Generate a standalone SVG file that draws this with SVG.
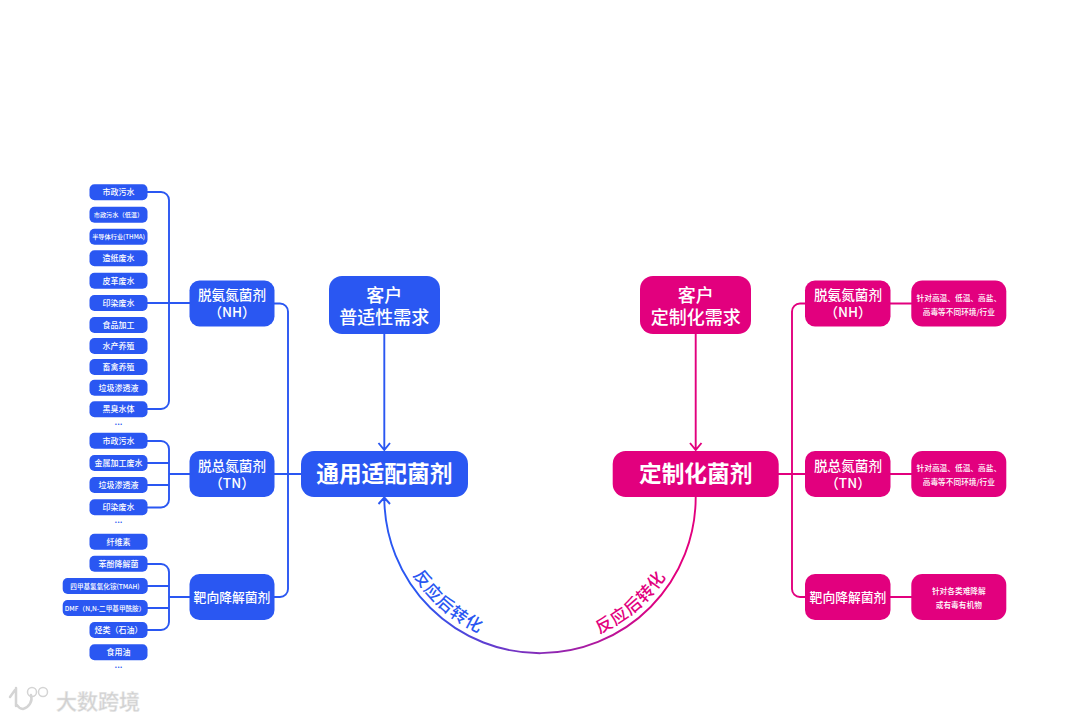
<svg xmlns="http://www.w3.org/2000/svg" width="1080" height="720" viewBox="0 0 1080 720">
<style>
text{font-family:"Noto Sans CJK SC","Noto Sans",sans-serif;text-anchor:middle;dominant-baseline:central;fill:#fff;font-weight:500}
.b{fill:#2a57f2}.m{fill:#e2007e}
.p{font-size:8px}.s{font-size:6.2px}.w{font-size:6.6px}
.n{font-size:13.600px}.t{font-size:12.800px}.c{font-size:18px}.h{font-size:22.700px;font-weight:600}.d{font-size:7.700px}
.lb{fill:none;stroke:#2a57f2;stroke-width:1.9}.lm{fill:none;stroke:#e2007e;stroke-width:1.9}
.dots{fill:#2a57f2;font-size:9px}
.arc{font-size:17px;text-anchor:start}
</style>
<defs>
<linearGradient id="g" gradientUnits="userSpaceOnUse" x1="384" y1="0" x2="696" y2="0"><stop offset="0.1" stop-color="#2a57f2"/><stop offset="0.9" stop-color="#e2007e"/></linearGradient>
<path id="ap" d="M399 497A141 141 0 0 0 681 497"/>
</defs>
<g id="connectors">
<path class="lb" d="M147 192H161a8 8 0 0 1 8 8V401a8 8 0 0 1-8 8H147M147 303H190"/>
<path class="lb" d="M147 441H161a8 8 0 0 1 8 8V499.500a8 8 0 0 1-8 8H147M147 463H169M147 485H169M169 474H190"/>
<path class="lb" d="M147 564H161a8 8 0 0 1 8 8V622a8 8 0 0 1-8 8H147M147 586H169M147 608H169M169 597H190"/>
<path class="lb" d="M274 303.500H280a8 8 0 0 1 8 8V589a8 8 0 0 1-8 8H274M274 474H302"/>
<path class="lb" d="M384.300 334V449M378.500 443L384.300 450L390 443"/>
<path class="lm" d="M695.700 334V449M690 443L695.700 450L701.500 443"/>
<path class="lm" d="M805 303.500H800a8 8 0 0 0-8 8V589a8 8 0 0 0 8 8H805M778 474H805"/>
<path class="lm" d="M890 303.500H912M890 474H912M890 597H912"/>
<path fill="none" stroke="url(#g)" stroke-width="1.9" d="M695.700 496.500A155.700 156 0 0 1 384.300 498M378.500 504L384.300 497.500L390 504"/>
</g>
<g id="left-leaves">
<g id="l1"><rect class="b" x="89.500" y="184.300" width="58" height="16" rx="5"/><text class="p" x="118.500" y="191.800">市政污水</text></g>
<g id="l2"><rect class="b" x="89.500" y="206.700" width="58" height="16" rx="5"/><text class="s" x="118.500" y="214.200">市政污水（低温）</text></g>
<g id="l3"><rect class="b" x="89.500" y="228.700" width="58" height="16" rx="5"/><text class="s" x="118.500" y="236.200">半导体行业(THMA)</text></g>
<g id="l4"><rect class="b" x="89.500" y="250.300" width="58" height="16" rx="5"/><text class="p" x="118.500" y="257.800">造纸废水</text></g>
<g id="l5"><rect class="b" x="89.500" y="272.700" width="58" height="16" rx="5"/><text class="p" x="118.500" y="280.200">皮革废水</text></g>
<g id="l6"><rect class="b" x="89.500" y="295" width="58" height="16" rx="5"/><text class="p" x="118.500" y="302.500">印染废水</text></g>
<g id="l7"><rect class="b" x="89.500" y="317" width="58" height="16" rx="5"/><text class="p" x="118.500" y="324.500">食品加工</text></g>
<g id="l8"><rect class="b" x="89.500" y="338" width="58" height="16" rx="5"/><text class="p" x="118.500" y="345.500">水产养殖</text></g>
<g id="l9"><rect class="b" x="89.500" y="359" width="58" height="16" rx="5"/><text class="p" x="118.500" y="366.500">畜禽养殖</text></g>
<g id="l10"><rect class="b" x="89.500" y="379.700" width="58" height="16" rx="5"/><text class="p" x="118.500" y="387.200">垃圾渗透液</text></g>
<g id="l11"><rect class="b" x="89.500" y="401.300" width="58" height="16" rx="5"/><text class="p" x="118.500" y="408.800">黑臭水体</text></g>
<text class="dots" x="118.500" y="421">...</text>
<g id="l12"><rect class="b" x="89.500" y="432.700" width="58" height="16" rx="5"/><text class="p" x="118.500" y="440.200">市政污水</text></g>
<g id="l13"><rect class="b" x="89.500" y="455" width="58" height="16" rx="5"/><text class="p" x="118.500" y="462.500">金属加工废水</text></g>
<g id="l14"><rect class="b" x="89.500" y="477" width="58" height="16" rx="5"/><text class="p" x="118.500" y="484.500">垃圾渗透液</text></g>
<g id="l15"><rect class="b" x="89.500" y="499.300" width="58" height="16" rx="5"/><text class="p" x="118.500" y="506.800">印染废水</text></g>
<text class="dots" x="118.500" y="519">...</text>
<g id="l16"><rect class="b" x="89.500" y="533.700" width="58" height="16" rx="5"/><text class="p" x="118.500" y="541.200">纤维素</text></g>
<g id="l17"><rect class="b" x="89.500" y="555.700" width="58" height="16" rx="5"/><text class="p" x="118.500" y="563.200">苯酚降解菌</text></g>
<g id="l18"><rect class="b" x="62.700" y="578" width="85" height="16" rx="5"/><text class="w" x="105" y="585.500">四甲基氢氧化铵(TMAH)</text></g>
<g id="l19"><rect class="b" x="62.700" y="600" width="85" height="16" rx="5"/><text class="w" x="105" y="607.500">DMF（N,N-二甲基甲酰胺）</text></g>
<g id="l20"><rect class="b" x="89.500" y="622" width="58" height="16" rx="5"/><text class="p" x="118.500" y="629.500">烃类（石油）</text></g>
<g id="l21"><rect class="b" x="89.500" y="644.300" width="58" height="16" rx="5"/><text class="p" x="118.500" y="651.800">食用油</text></g>
<text class="dots" x="118.500" y="664">...</text>
</g>
<g id="b-nh"><rect class="b" x="189.500" y="280.500" width="85" height="46" rx="10"/><text class="n"><tspan x="232" y="294.200">脱氨氮菌剂</tspan><tspan x="232" y="311">（NH）</tspan></text></g>
<g id="b-tn"><rect class="b" x="189.500" y="451" width="85" height="46" rx="10"/><text class="n"><tspan x="232" y="464.500">脱总氮菌剂</tspan><tspan x="232" y="481.500">（TN）</tspan></text></g>
<g id="b-target"><rect class="b" x="189.500" y="574" width="85" height="46" rx="10"/><text class="t" x="232" y="596.500">靶向降解菌剂</text></g>
<g id="b-need"><rect class="b" x="329" y="276" width="111" height="58" rx="13"/><text class="c"><tspan x="384.300" y="294">客户</tspan><tspan x="384.300" y="315.500">普适性需求</tspan></text></g>
<g id="b-main"><rect class="b" x="301" y="451" width="167" height="46" rx="13"/><text class="h" x="384.300" y="472.800">通用适配菌剂</text></g>
<g id="m-need"><rect class="m" x="640" y="276" width="111" height="58" rx="13"/><text class="c"><tspan x="695.700" y="294">客户</tspan><tspan x="695.700" y="315.500">定制化需求</tspan></text></g>
<g id="m-main"><rect class="m" x="612.700" y="451" width="166" height="46" rx="13"/><text class="h" x="695.700" y="472.800">定制化菌剂</text></g>
<g id="m-nh"><rect class="m" x="805" y="280.500" width="85.500" height="46" rx="10"/><text class="n"><tspan x="848" y="294.200">脱氨氮菌剂</tspan><tspan x="848" y="311">（NH）</tspan></text></g>
<g id="m-tn"><rect class="m" x="805" y="451" width="85.500" height="46" rx="10"/><text class="n"><tspan x="848" y="464.500">脱总氮菌剂</tspan><tspan x="848" y="481.500">（TN）</tspan></text></g>
<g id="m-target"><rect class="m" x="805" y="574" width="85.500" height="46" rx="10"/><text class="t" x="848" y="596.500">靶向降解菌剂</text></g>
<g id="d-nh"><rect class="m" x="911.300" y="280.500" width="95" height="46" rx="11"/><text class="d"><tspan x="958.800" y="296.500">针对高温、低温、高盐、</tspan><tspan x="958.800" y="310.500">高毒等不同环境/行业</tspan></text></g>
<g id="d-tn"><rect class="m" x="911.300" y="451" width="95" height="46" rx="11"/><text class="d"><tspan x="958.800" y="467">针对高温、低温、高盐、</tspan><tspan x="958.800" y="481">高毒等不同环境/行业</tspan></text></g>
<g id="d-target"><rect class="m" x="911.300" y="574" width="95" height="46" rx="11"/><text class="d"><tspan x="958.800" y="590">针对各类难降解</tspan><tspan x="958.800" y="604">或有毒有机物</tspan></text></g>
<text class="arc" style="fill:#2a57f2"><textPath href="#ap" startOffset="77">反应后转化</textPath></text>
<text class="arc" style="fill:#e2007e"><textPath href="#ap" startOffset="278.500">反应后转化</textPath></text>
<g id="watermark">
<path d="M15 690L10 697M16 688V706M31 695a11 11 0 0 1-8 14a8 8 0 0 1-6-4" fill="none" stroke="#d4d4d4" stroke-width="2.500" stroke-linecap="round"/>
<circle cx="32" cy="692" r="4.500" fill="none" stroke="#d4d4d4" stroke-width="1.500"/>
<circle cx="43" cy="692" r="4.500" fill="none" stroke="#d4d4d4" stroke-width="1.500"/>
<text x="98" y="700" style="font-size:21px;fill:#d0d0d0;stroke:#e8e8e8;stroke-width:0.500">大数跨境</text>
</g>
</svg>
